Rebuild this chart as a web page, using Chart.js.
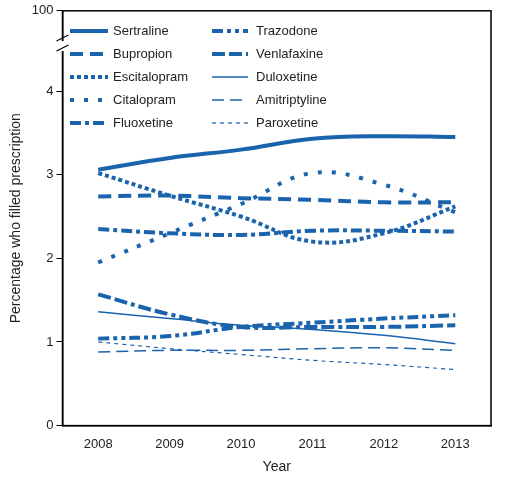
<!DOCTYPE html><html><head><script src="https://cdn.jsdelivr.net/npm/chart.js@4"></script>
<style>body{margin:0;background:#fff}#w{width:505px;height:486px}</style></head><body><div id="w"><canvas id="c"></canvas></div>
<script>
const years=['2008','2009','2010','2011','2012','2013'];
const sertraline=[3.06,3.2,3.3,3.43,3.46,3.45];
const bupropion=[2.74,2.75,2.72,2.70,2.67,2.67];
const escitalopram=[3.02,2.75,2.5,2.2,2.3,2.62];
const citalopram=[1.95,2.3,2.65,3.02,2.88,2.55];
const fluoxetine=[2.35,2.3,2.28,2.33,2.33,2.32];
const trazodone=[1.04,1.07,1.18,1.23,1.28,1.32];
const venlafaxine=[1.57,1.33,1.18,1.18,1.18,1.20];
const duloxetine=[1.36,1.28,1.2,1.15,1.08,0.98];
const amitriptyline=[0.88,0.90,0.90,0.92,0.93,0.90];
const paroxetine=[1.0,0.92,0.85,0.78,0.73,0.67];
const yTicks=[0,1,2,3,4];
const C='#1a63ad';
const defs=[
 ['Sertraline',sertraline,4,[]],
 ['Bupropion',bupropion,4,[13,7]],
 ['Escitalopram',escitalopram,4,[4,3]],
 ['Citalopram',citalopram,4,[4,10]],
 ['Fluoxetine',fluoxetine,4,[11,4,4,4]],
 ['Trazodone',trazodone,4,[11,4,4,4,4,4]],
 ['Venlafaxine',venlafaxine,4,[13,4,13,4,4,4]],
 ['Duloxetine',duloxetine,1.5,[]],
 ['Amitriptyline',amitriptyline,1.5,[12,6]],
 ['Paroxetine',paroxetine,1.2,[4,4]]];
const TOP=4.96;
const deco={id:'deco',afterDraw(ch){const x=ch.ctx,a=ch.chartArea;x.save();
 x.strokeStyle='#000';x.lineWidth=1.5;x.strokeRect(a.left,a.top,a.right-a.left,a.bottom-a.top);
 // break
 const y=ch.scales.y, yb=y.getPixelForValue(4.55);
 x.fillStyle='#fff';x.fillRect(a.left-6,yb-4,12,10);
 x.lineWidth=1.2;x.beginPath();x.moveTo(a.left-6,yb-4);x.lineTo(a.left+6,yb-10);x.moveTo(a.left-6,yb+6);x.lineTo(a.left+6,yb);x.stroke();
 // legend
 x.font='13px "Liberation Sans", Arial';x.textBaseline='middle';x.fillStyle='#222';
 defs.forEach((d,i)=>{const col=i<5?0:1,row=i%5;const yy=31+row*23;
  const x0=col?212:70,x1=col?248:108;
  x.strokeStyle=C;x.lineWidth=d[2];x.setLineDash(d[3]);x.beginPath();x.moveTo(x0,yy);x.lineTo(x1,yy);x.stroke();
  x.setLineDash([]);x.fillText(d[0],col?256:113,yy);});
 x.restore();}};
new Chart(document.getElementById('c'),{type:'line',
 data:{labels:years,datasets:defs.map(d=>({label:d[0],data:d[1],borderColor:C,borderWidth:d[2],borderDash:d[3],pointRadius:0,tension:0.4,fill:false}))},
 options:{responsive:true,maintainAspectRatio:false,animation:false,
  layout:{padding:{top:6,right:14,left:4,bottom:6}},
  plugins:{legend:{display:false},tooltip:{enabled:false}},
  scales:{x:{offset:true,grid:{display:false},border:{color:'#000',width:1.5},
     ticks:{color:'#222',font:{size:13,family:'Liberation Sans'}},
     title:{display:true,text:'Year',color:'#222',font:{size:14,family:'Liberation Sans'}}},
   y:{min:0,max:TOP,grid:{display:false,drawTicks:true},border:{color:'#000',width:1.5},
     afterBuildTicks:s=>{s.ticks=yTicks.concat([TOP]).map(v=>({value:v}));},
     ticks:{color:'#222',font:{size:13,family:'Liberation Sans'},callback:v=>v===TOP?'100':String(v)},
     grid:{display:true,drawOnChartArea:false,color:'#000',tickLength:6},
     title:{display:true,text:'Percentage who filled prescription',color:'#222',font:{size:14,family:'Liberation Sans'}}}}},
 plugins:[deco]});
</script></body></html>
